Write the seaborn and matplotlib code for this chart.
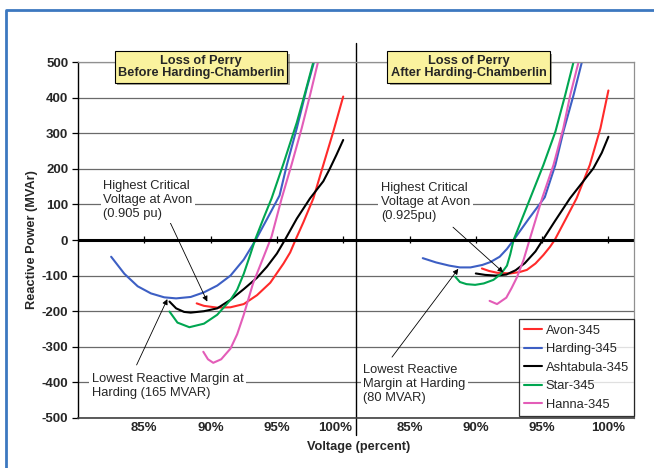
import numpy as np
import pandas as pd
import seaborn as sns
import matplotlib.pyplot as plt
from matplotlib.lines import Line2D
from matplotlib import patheffects as pe
from matplotlib.transforms import ScaledTranslation

# --- data: voltage (percent) vs reactive power (MVAr) ---
# loss of Perry, before Harding-Chamberlin
avon_b_v = [88.95, 89.5, 90.5, 91.5, 92.5, 93.5, 94.5, 95.5, 96.0, 96.4, 97.0, 97.75, 98.5, 99.25, 100.0]
avon_b_q = [-178, -185, -190, -189, -180, -155, -120, -66, -35, 0, 50, 117, 211, 304, 403]
harding_b_v = [82.5, 83.5, 84.5, 85.5, 86.5, 87.4, 88.5, 89.5, 90.5, 91.5, 92.5, 93.4, 94.3, 95.2, 95.75, 96.5, 97.25, 97.8]
harding_b_q = [-47, -95, -130, -150, -161, -164, -160, -147, -128, -100, -55, 0, 62, 125, 211, 314, 426, 500]
ashtabula_b_v = [86.9, 87.4, 88.0, 88.5, 89.5, 90.5, 91.5, 92.5, 93.5, 94.25, 95.0, 95.6, 96.5, 97.5, 98.5, 99.0, 99.5, 100.0]
ashtabula_b_q = [-173, -192, -202, -204, -200, -192, -168, -138, -106, -75, -38, 0, 60, 117, 165, 201, 240, 281]
star_b_v = [86.9, 87.5, 88.4, 89.5, 90.5, 91.5, 92.0, 92.5, 93.0, 93.35, 94.0, 94.6, 95.5, 96.5, 97.1, 97.75]
star_b_q = [-201, -232, -245, -235, -210, -168, -140, -95, -40, 0, 62, 117, 215, 330, 410, 500]
hanna_b_v = [89.45, 89.8, 90.2, 90.8, 91.5, 92.0, 92.5, 93.2, 94.0, 94.6, 95.36, 96.1, 96.87, 97.5, 98.1]
hanna_b_q = [-314, -335, -345, -335, -305, -265, -210, -122, -47, 10, 117, 211, 314, 407, 500]

# loss of Perry, after Harding-Chamberlin
avon_a_v = [90.46, 91.0, 91.6, 92.6, 93.3, 93.85, 94.5, 95.1, 95.6, 95.95, 96.8, 97.6, 98.6, 99.4, 100.0]
avon_a_q = [-80, -87, -92, -94, -90, -84, -66, -42, -19, 0, 60, 117, 211, 314, 420]
harding_a_v = [86.0, 87.0, 88.0, 88.8, 89.6, 90.5, 91.1, 91.8, 92.35, 92.85, 94.0, 95.2, 96.0, 96.6, 97.37, 98.0]
harding_a_q = [-51, -63, -72, -77, -77, -70, -62, -47, -25, 0, 60, 120, 211, 304, 407, 500]
ashtabula_a_v = [90.0, 90.7, 91.5, 92.3, 93.0, 93.7, 94.5, 95.05, 96.0, 97.1, 98.0, 98.86, 99.5, 100.0]
ashtabula_a_q = [-94, -98, -100, -97, -85, -65, -32, 0, 55, 117, 160, 201, 245, 290]
star_a_v = [88.45, 88.8, 89.3, 89.95, 90.6, 91.33, 91.9, 92.35, 92.6, 92.85, 94.1, 95.1, 96.0, 96.74, 97.37]
star_a_q = [-103, -118, -124, -126, -122, -112, -95, -72, -40, 0, 117, 211, 304, 407, 500]
hanna_a_v = [91.04, 91.6, 92.3, 92.7, 93.1, 93.6, 94.05, 95.0, 95.86, 96.6, 97.12, 97.75]
hanna_a_q = [-171, -180, -162, -135, -105, -56, 0, 117, 211, 314, 407, 500]

stations = ["Avon-345", "Harding-345", "Ashtabula-345", "Star-345", "Hanna-345"]
colors = ["#FF2A2A", "#3D5FC4", "#000000", "#00A651", "#E35DB8"]
panel_titles = ["Loss of Perry\nBefore Harding-Chamberlin", "Loss of Perry\nAfter Harding-Chamberlin"]
xtick_pct = [85, 90, 95, 100]

before = [(avon_b_v, avon_b_q), (harding_b_v, harding_b_q), (ashtabula_b_v, ashtabula_b_q),
          (star_b_v, star_b_q), (hanna_b_v, hanna_b_q)]
after = [(avon_a_v, avon_a_q), (harding_a_v, harding_a_q), (ashtabula_a_v, ashtabula_a_q),
         (star_a_v, star_a_q), (hanna_a_v, hanna_a_q)]

# the right chart sits next to the left one on a shared axis, shifted by 20 points
offset = 20
rows = []
for panel, (series, shift) in enumerate([(before, 0), (after, offset)]):
    for name, (v, q) in zip(stations, series):
        for vi, qi in zip(v, q):
            rows.append({"station": name, "panel": panel, "x": vi + shift, "q": qi})
df = pd.DataFrame(rows)

sns.set_style("white")
plt.rcParams['font.family'] = ['Liberation Sans', 'DejaVu Sans']
plt.rcParams['axes.unicode_minus'] = False

fig = plt.figure(figsize=(6.54, 4.68), dpi=100)
ax = fig.add_axes([78 / 654, 1 - 418 / 468, 556 / 654, 356 / 468])

sns.lineplot(data=df, x="x", y="q", hue="station", units="panel", estimator=None, sort=False,
             palette=dict(zip(stations, colors)), hue_order=stations, linewidth=1.5, ax=ax)

ax.set_xlim(80, 121.93)
ax.set_ylim(-500, 500)
ax.set_yticks(range(-500, 501, 100))
ax.yaxis.grid(True, color="#6a6a6a", linewidth=0.9)
ax.set_axisbelow(True)
ax.axhline(0, color="black", linewidth=2.2, zorder=2)

ticks = xtick_pct + [t + offset for t in xtick_pct]
ax.set_xticks(ticks)
ax.set_xticklabels([f"{t if t <= 100 else t - offset}%" for t in ticks], fontsize=9.5, fontweight="bold")
ax.tick_params(axis="x", length=0, pad=3)
# left chart's last label sits just before the divider
last = ax.get_xticklabels()[len(xtick_pct) - 1]
last.set_ha("right")
last.set_transform(last.get_transform() + ScaledTranslation(0.09, 0, fig.dpi_scale_trans))
ax.vlines(ticks, -8, 12, color="black", linewidth=0.9, zorder=2)
ax.tick_params(axis="y", length=4, width=0.9, pad=3, left=True, color="black")
for lab in ax.get_yticklabels():
    lab.set_fontsize(9.5)
    lab.set_fontweight("bold")

for side in ["top", "right"]:
    ax.spines[side].set_color("#909090")
    ax.spines[side].set_linewidth(0.9)
ax.spines["left"].set_color("black")
ax.spines["left"].set_linewidth(1.0)
ax.spines["bottom"].set_color("#404040")
ax.spines["bottom"].set_linewidth(1.2)

# divider between the two charts
ax.axvline(100.97, ymin=-0.048, ymax=1.053, color="black", linewidth=1.0, clip_on=False)

ax.set_ylabel("Reactive Power (MVAr)", fontsize=9.2, fontweight="bold")
ax.yaxis.set_label_coords(-0.072, 0.5)
ax.set_xlabel("Voltage (percent)", fontsize=9.2, fontweight="bold")
ax.xaxis.set_label_coords(0.504, -0.066)

# panel title boxes
for xc, title in zip([89.28, 109.45], panel_titles):
    t = ax.text(xc, 486, title, ha="center", va="center", fontsize=9.2, fontweight="bold",
                linespacing=1.1, clip_on=False, zorder=5,
                bbox=dict(boxstyle="square,pad=0.25", facecolor="#FAF29E", edgecolor="black", linewidth=0.8))
    t.get_bbox_patch().set_path_effects([pe.SimplePatchShadow(offset=(2, -2), alpha=0.5), pe.Normal()])

# annotations
note = dict(fontsize=9.3, ha="left", va="center", linespacing=1.2, zorder=4,
            bbox=dict(boxstyle="square,pad=0.2", facecolor="white", edgecolor="none"))
arrow = dict(arrowstyle="-|>", color="black", lw=0.6, mutation_scale=8, shrinkA=0, shrinkB=0)

ax.text(81.9, 112, "Highest Critical\nVoltage at Avon\n(0.905 pu)", **note)
ax.annotate("", xy=(89.75, -173), xytext=(86.94, 50), arrowprops=arrow)
ax.text(81.06, -410, "Lowest Reactive Margin at\nHarding (165 MVAR)", **note)
ax.annotate("", xy=(86.74, -166), xytext=(84.42, -351), arrowprops=arrow)

ax.text(102.85, 107, "Highest Critical\nVoltage at Avon\n(0.925pu)", **note)
ax.annotate("", xy=(112.07, -91), xytext=(108.28, 36), arrowprops=arrow)
ax.text(101.5, -404, "Lowest Reactive\nMargin at Harding\n(80 MVAR)", **note)
ax.annotate("", xy=(108.68, -81), xytext=(103.68, -329), arrowprops=arrow)

leg = ax.legend(loc="lower right", bbox_to_anchor=(1, 0.006), borderaxespad=0, frameon=True,
                fancybox=False, fontsize=9.3, handlelength=1.4, handletextpad=0.25,
                labelspacing=0.5, borderpad=0.4)
leg.get_frame().set_edgecolor("black")
leg.get_frame().set_linewidth(0.9)
leg.set_zorder(6)

# slide frame
fig.add_artist(Line2D([6 / 654, 6 / 654, 1], [0, 1 - 10 / 468, 1 - 10 / 468],
                      transform=fig.transFigure, color="#3C78C0", linewidth=2))

fig.savefig("out.png", dpi=100)
